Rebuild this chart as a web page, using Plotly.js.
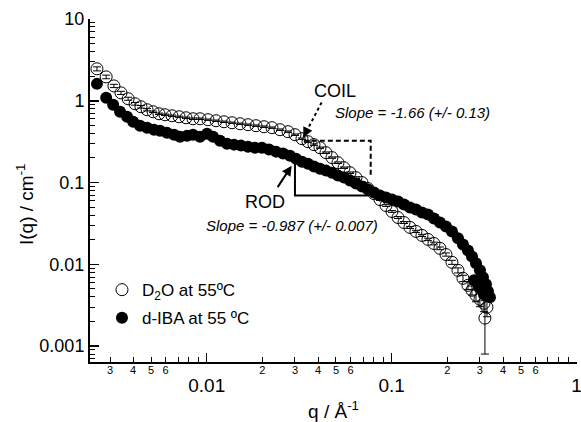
<!DOCTYPE html>
<html><head><meta charset="utf-8">
<script src="https://cdn.plot.ly/plotly-3.0.1.min.js"></script>
<style>html,body{margin:0;padding:0;background:#fff}#chart{width:581px;height:422px}</style>
</head><body><div id="chart"></div>
<script>
// ---- data ----
const d2oQ = [0.00255,0.00286,0.00315,0.00344,0.00376,0.00410,0.00441,0.00476,0.00513,0.00552,
  0.00595,0.00649,0.00709,0.00773,0.00843,0.00920,0.01016,0.01123,0.01240,0.01370,
  0.01514,0.01672,0.01847,0.02040,0.02254,0.02490,0.02751,0.03001,0.03274,0.03528,
  0.03802,0.04097,0.04415,0.04756,0.05126,0.05524,0.05952,0.06412,0.06911,0.07446,
  0.08023,0.08645,0.09316,0.1004,0.1082,0.1166,0.1256,0.1353,0.1458,0.1571,
  0.1693,0.1824,0.1966,0.2118,0.2283,0.2429,0.2585,0.2717,0.2856,0.3001,
  0.3154,0.3274,0.3193];
const d2oI = [2.46,1.96,1.52,1.25,1.06,0.919,0.845,0.777,0.734,0.694,
  0.675,0.656,0.638,0.620,0.603,0.603,0.587,0.570,0.554,0.539,
  0.524,0.510,0.496,0.482,0.469,0.443,0.419,0.385,0.344,0.316,
  0.291,0.267,0.232,0.202,0.175,0.152,0.132,0.115,0.100,0.0845,
  0.0734,0.0620,0.0524,0.0443,0.0374,0.0325,0.0283,0.0253,0.0226,0.0202,
  0.0180,0.0157,0.0132,0.0106,0.00845,0.00675,0.00554,0.00482,0.00419,0.00374,
  0.00334,0.00299,0.00220];
const d2oErr = [0.14,0.10,0.07,0.055,0.045,0.035,0.03,0.025,0.015,0.014,
  0.013,0.013,0.012,0.012,0.012,0.012,0.011,0.011,0.011,0.010,
  0.010,0.010,0.010,0.010,0.009,0.009,0.008,0.008,0.007,0.006,
  0.006,0.005,0.005,0.004,0.004,0.003,0.003,0.003,0.002,0.002,
  0.002,0.0015,0.0013,0.0011,0.001,0.0009,0.0008,0.0008,0.0007,0.0007,
  0.0007,0.0006,0.0006,0.0006,0.0006,0.0006,0.0006,0.0006,0.0007,0.0007,
  0.0007,0.0007,0.0014];
const dibaQ = [0.00255,0.00286,0.00312,0.00340,0.00371,0.00400,0.00436,0.00476,0.00519,0.00559,
  0.00610,0.00666,0.00717,0.00783,0.00843,0.00920,0.01004,0.01082,0.01180,0.01287,
  0.01405,0.01532,0.01672,0.01824,0.01990,0.02172,0.02369,0.02585,0.02820,0.03039,
  0.03274,0.03528,0.03802,0.04097,0.04415,0.04756,0.05126,0.05524,0.05952,0.06412,
  0.06911,0.07446,0.08023,0.08645,0.09316,0.1004,0.1082,0.1166,0.1256,0.1353,
  0.1458,0.1571,0.1693,0.1824,0.1966,0.2118,0.2283,0.2429,0.2585,0.2717,
  0.2856,0.3001,0.3115,0.3234,0.3315,0.3399,0.2786,0.2964,0.3154];
const dibaI = [1.61,1.09,0.894,0.734,0.638,0.554,0.496,0.469,0.443,0.431,
  0.407,0.385,0.364,0.374,0.385,0.364,0.396,0.364,0.325,0.299,
  0.291,0.283,0.275,0.267,0.267,0.253,0.239,0.226,0.213,0.196,
  0.180,0.170,0.157,0.148,0.140,0.132,0.122,0.115,0.106,0.0973,
  0.0894,0.0822,0.0755,0.0694,0.0656,0.0620,0.0587,0.0539,0.0496,0.0469,
  0.0431,0.0407,0.0364,0.0325,0.0291,0.0253,0.0208,0.0175,0.0148,0.0125,
  0.0103,0.00845,0.00694,0.00570,0.00469,0.00396,0.00638,0.00524,0.00431];

// slope guide triangles
const rodTriQ = [0.0300,0.0300,0.0750];
const rodTriI = [0.170,0.0694,0.0694];
const coilTriQ = [0.0335,0.0770,0.0770];
const coilTriI = [0.325,0.325,0.116];
// dotted COIL pointer (tail -> tip)
const coilPtrQ = [0.0418,0.0333];
const coilPtrI = [0.953,0.357];
const rodTipQ = 0.0288, rodTipI = 0.161;

// tick labels
const xMajorVals = [0.01,0.1,1];
const xMajorText = ['0.01','0.1','1'];
const xMinorTickVals = [0.003,0.004,0.005,0.006,0.007,0.008,0.009,
  0.02,0.03,0.04,0.05,0.06,0.07,0.08,0.09,
  0.2,0.3,0.4,0.5,0.6,0.7,0.8,0.9];
const xMinorLabelVals = [0.003,0.004,0.005,0.006,
  0.02,0.03,0.04,0.05,0.06,
  0.2,0.3,0.4,0.5,0.6];
const xMinorLabelText = ['3','4','5','6',
  '2','3','4','5','6',
  '2','3','4','5','6'];
const yMajorVals = [0.001,0.01,0.1,1,10];
const yMajorText = ['0.001','0.01','0.1','1','10'];
const yMinorVals = [0.0007,0.0008,0.0009,
  0.002,0.003,0.004,0.005,0.006,0.007,0.008,0.009,
  0.02,0.03,0.04,0.05,0.06,0.07,0.08,0.09,
  0.2,0.3,0.4,0.5,0.6,0.7,0.8,0.9,
  2,3,4,5,6,7,8,9];

const FONT = 'Arial, "Liberation Sans", sans-serif';
const L = Math.log10;
const xr = [-2.631, 0.002];
const yr = [L(0.00064), 1];

const traces = [
  {x:d2oQ, y:d2oI, name:'D<sub>2</sub>O at 55ºC', type:'scatter', mode:'markers', legendgroup:'a',
   marker:{symbol:'circle-open', size:12, color:'black', line:{width:1, color:'black'}},
   error_y:{type:'data', array:d2oErr, visible:true, color:'black', thickness:1, width:4}},
  {x:dibaQ, y:dibaI, name:'d-IBA at 55 ºC', type:'scatter', mode:'markers', legendgroup:'b',
   marker:{symbol:'circle', size:12, color:'black'}},
  {x:rodTriQ, y:rodTriI, xaxis:'x2', type:'scatter', mode:'lines', showlegend:false, hoverinfo:'skip',
   line:{color:'black', width:2}},
  {x:coilTriQ, y:coilTriI, xaxis:'x2', type:'scatter', mode:'lines', showlegend:false, hoverinfo:'skip',
   line:{color:'black', width:2, dash:'5px,3px'}},
  {x:coilPtrQ, y:coilPtrI, xaxis:'x2', type:'scatter', mode:'lines', showlegend:false, hoverinfo:'skip',
   line:{color:'black', width:2, dash:'3px,3px'}}
];

const layout = {
  width:581, height:422,
  margin:{l:90, r:4, t:19, b:60},
  paper_bgcolor:'white', plot_bgcolor:'white',
  font:{family:FONT, color:'black', size:18},
  showlegend:true,
  legend:{x:0.0246, y:0.262, xanchor:'left', yanchor:'top', bgcolor:'rgba(0,0,0,0)',
          traceorder:'grouped', tracegroupgap:3,
          font:{size:17, family:FONT}, itemsizing:'trace'},
  xaxis:{type:'log', range:xr, showgrid:false, zeroline:false,
    showline:true, linecolor:'black', linewidth:2,
    tickmode:'array', tickvals:xMajorVals, ticktext:xMajorText,
    ticks:'inside', ticklen:9, tickwidth:1.5, tickcolor:'black',
    tickfont:{size:19, family:FONT}, ticklabelstandoff:5, ticklabeloverflow:'allow',
    minor:{tickmode:'array', tickvals:xMinorTickVals, ticks:'inside', ticklen:5, tickwidth:1, tickcolor:'black', showgrid:false},
    title:{text:'q / Å<sup>-1</sup>', font:{size:19, family:FONT}, standoff:11}},
  xaxis2:{type:'log', range:xr, overlaying:'x', anchor:'y', side:'bottom',
    showgrid:false, zeroline:false, showline:false,
    tickmode:'array', tickvals:xMinorLabelVals, ticktext:xMinorLabelText, ticks:'',
    tickfont:{size:11, family:FONT}},
  yaxis:{type:'log', range:yr, showgrid:false, zeroline:false,
    showline:true, linecolor:'black', linewidth:2,
    tickmode:'array', tickvals:yMajorVals, ticktext:yMajorText,
    ticks:'inside', ticklen:9, tickwidth:1.5, tickcolor:'black',
    tickfont:{size:18, family:FONT},
    minor:{tickmode:'array', tickvals:yMinorVals, ticks:'inside', ticklen:5, tickwidth:1, tickcolor:'black', showgrid:false}},
  annotations:[
    {x:L(0.0494), y:L(1.324), text:'COIL', showarrow:false, font:{size:18, family:FONT}},
    {x:L(0.0482), y:L(0.720), text:'<i>Slope = -1.66 (+/- 0.13)</i>', showarrow:false, xanchor:'left',
     font:{size:15, family:FONT}},
    {x:L(0.02066), y:L(0.0575), text:'ROD', showarrow:false, font:{size:18, family:FONT}},
    {x:L(0.0865), y:L(0.0299), text:'<i>Slope = -0.987 (+/- 0.007)</i>', showarrow:false, xanchor:'right',
     font:{size:15, family:FONT}},
    {x:L(rodTipQ), y:L(rodTipI), ax:-15, ay:23, text:'', showarrow:true, arrowhead:2, arrowsize:1, arrowwidth:2, arrowcolor:'black'},
    {x:L(coilPtrQ[1]), y:L(coilPtrI[1]), ax:5, ay:-10, text:'', showarrow:true, arrowhead:2, arrowsize:1, arrowwidth:2, arrowcolor:'black'},
    {xref:'paper', yref:'paper', x:(25-90)/487, y:(362-204)/343, xanchor:'center', yanchor:'middle',
     text:'I(q) / cm<sup>-1</sup>', textangle:-90,
     showarrow:false, font:{size:19, family:FONT}}
  ]
};

Plotly.newPlot('chart', traces, layout, {staticPlot:true, displayModeBar:false});
</script>
</body></html>
